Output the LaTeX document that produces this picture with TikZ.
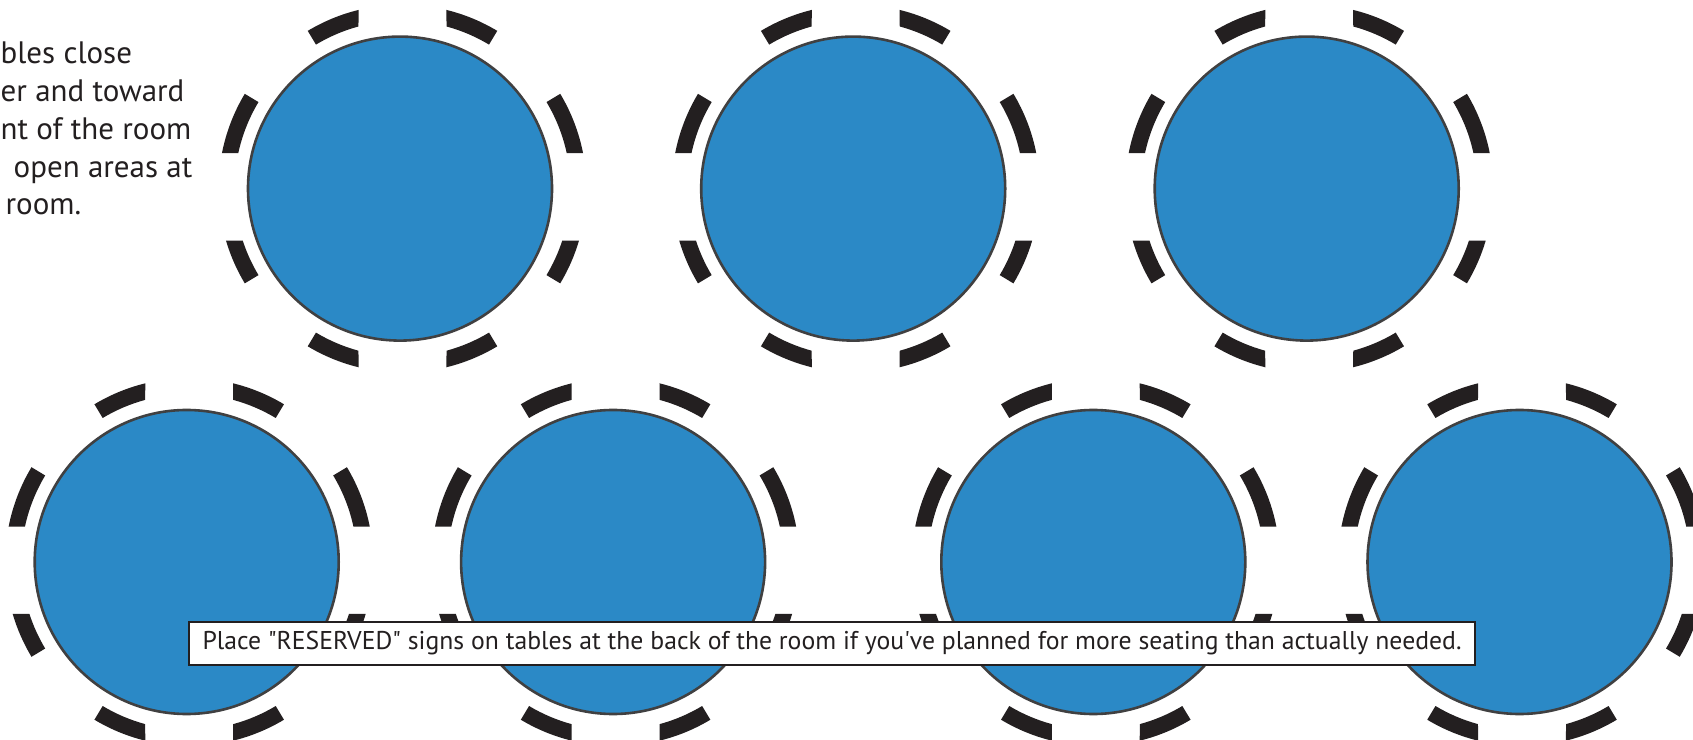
\documentclass[tikz,border=0pt]{standalone}
\usepackage{fontspec}
\setmainfont{PT Sans}
\usetikzlibrary{positioning}

\definecolor{tableblue}{RGB}{43,137,198}
\definecolor{rimgray}{RGB}{64,64,65}
\definecolor{inkblack}{RGB}{35,31,32}

\tikzset{
    table/.style={circle, draw=rimgray, line width=2.6pt, fill=tableblue,
        minimum size=304pt, inner sep=0pt},
    chair/.style={fill=inkblack},
    notebox/.style={draw=inkblack, line width=2pt, fill=white,
        minimum width=1286pt, minimum height=43pt, inner sep=0pt,
        text=inkblack, font=\fontsize{25.7}{30}\selectfont},
    tiptext/.style={align=left, inner sep=0pt, text=inkblack,
        font=\fontsize{31}{37.9}\selectfont}
}

% eight chairs round a table: radial end / outer cut / inner cut
\newcommand{\seatring}[1]{
    \begin{scope}[shift={(#1.center)}, xshift=2.5pt]
        \foreach \ra/\ao/\ai in {121/103.8/105.2, 59/76.2/74.8,
                149/168.9/167.8, 211/196.4/198.0,
                239/256.2/254.8, 301/283.8/285.2,
                31/11.1/12.2, 329/343.6/342.0}{
            \fill[chair] (\ra:184) arc[start angle=\ra, end angle=\ao, radius=184]
                -- (\ai:168) arc[start angle=\ai, end angle=\ra, radius=168] -- cycle;
        }
    \end{scope}
}

\begin{document}
\begin{tikzpicture}[x=1pt, y=1pt]

    \path[use as bounding box, fill=white] (0,0) rectangle (1693,739);

    % ==== FRONT ROW ====
    \node[table] (f1) at (400,550.4) {};
    \node[table] (f2) at (853.2,550.4) {};
    \node[table] (f3) at (1306.7,550.4) {};

    % ==== BACK ROW ====
    \node[table] (b1) at (186.7,177) {};
    \node[table] (b2) at (613.1,177) {};
    \node[table] (b3) at (1093.3,177) {};
    \node[table] (b4) at (1519.5,177) {};

    % ==== CHAIRS ====
    \foreach \t in {f1,f2,f3,b1,b2,b3,b4}{
        \seatring{\t}
    }

    % ==== NOTES ====
    \node[tiptext, anchor=base west] (tip) at (0.5,524)
        {bles close\\er and toward\\nt of the room\\\hspace*{13pt}open areas at\\\hspace*{5pt}room.};

    \node[notebox] (reserved) at (832,95.5)
        {Place \textquotedbl RESERVED\textquotedbl{} signs on tables at the back of the room if you\textquotesingle ve planned for more seating than actually needed.};

\end{tikzpicture}
\end{document}
